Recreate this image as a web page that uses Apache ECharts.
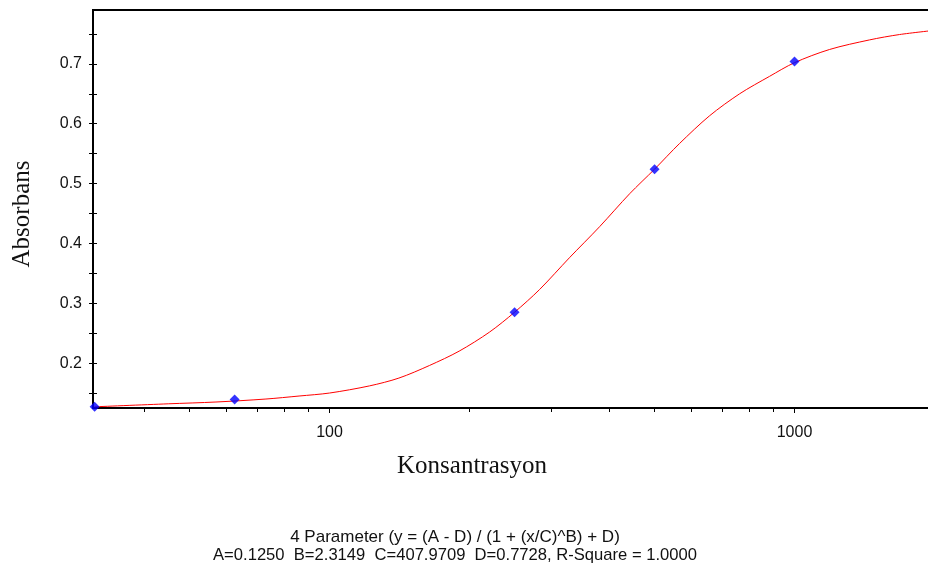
<!DOCTYPE html>
<html>
<head>
<meta charset="utf-8">
<script src="https://cdn.jsdelivr.net/npm/echarts@6/dist/echarts.min.js"></script>
<style>
  html, body { margin: 0; padding: 0; background: #fff; }
  #myChart { width: 928px; height: 579px; }
</style>
</head>
<body>
<div id="myChart"></div>
<script>
  // measured standards (blue diamonds)
  const concentrations = [31.25, 62.5, 250, 500, 1000]
  const absorbance = [0.127, 0.139, 0.285, 0.524, 0.704]

  // fitted 4PL curve
  const curveX = [31.25, 45, 57, 73, 86, 100, 122, 141, 164, 190, 221, 250, 283, 328, 381, 442, 500, 566, 656, 762, 883, 1000, 1189, 1449, 1682, 2000]
  const curveY = [0.127, 0.132, 0.135, 0.140, 0.145, 0.150, 0.162, 0.175, 0.196, 0.220, 0.252, 0.285, 0.323, 0.376, 0.428, 0.483, 0.524, 0.567, 0.613, 0.650, 0.679, 0.702, 0.724, 0.740, 0.749, 0.756]

  // axis ticks / labels
  const xLabelValues = [100, 1000]
  const xMinorTicks = [40, 50, 60, 70, 80, 90, 200, 300, 400, 500, 600, 700, 800, 900]
  const yLabelValues = [0.2, 0.3, 0.4, 0.5, 0.6, 0.7]
  const yTickValues = [0.15, 0.2, 0.25, 0.3, 0.35, 0.4, 0.45, 0.5, 0.55, 0.6, 0.65, 0.7, 0.75]

  const xMin = 31
  const xMax = 2000
  const yMin = 0.125
  const yMax = 0.79

  const sans = "'Liberation Sans', Arial, sans-serif"
  const serif = "'Liberation Serif', 'Times New Roman', serif"

  const myChart = echarts.init(document.getElementById('myChart'))

  const pointData = concentrations.map((c, i) => [c, absorbance[i]])
  const curveData = curveX.map((c, i) => [c, curveY[i]])

  myChart.setOption({
    animation: false,
    grid: {
      left: 93,
      top: 10,
      right: -6.5,
      bottom: 171,
      show: true,
      borderColor: '#000',
      borderWidth: 2,
      containLabel: false,
      outerBoundsMode: 'none'
    },
    xAxis: [
      {
        type: 'log',
        logBase: 10,
        min: xMin,
        max: xMax,
        position: 'bottom',
        axisLine: { lineStyle: { color: '#000', width: 2 } },
        axisTick: { customValues: xLabelValues, length: 5, lineStyle: { color: '#000', width: 1 } },
        axisLabel: {
          customValues: xLabelValues,
          margin: 17,
          color: '#111',
          fontFamily: sans,
          fontSize: 16,
          formatter: v => String(Math.round(v))
        },
        splitLine: { show: false },
        minorTick: { show: false }
      },
      {
        type: 'log',
        logBase: 10,
        min: xMin,
        max: xMax,
        position: 'bottom',
        axisLine: { show: false },
        axisTick: { customValues: xMinorTicks, length: 4, lineStyle: { color: '#000', width: 1 } },
        axisLabel: { show: false },
        splitLine: { show: false }
      }
    ],
    yAxis: [
      {
        type: 'value',
        min: yMin,
        max: yMax,
        position: 'left',
        axisLine: { show: true, lineStyle: { color: '#000', width: 2 } },
        axisTick: { show: true, customValues: yTickValues, length: 4, lineStyle: { color: '#000', width: 1 } },
        axisLabel: {
          customValues: yLabelValues,
          margin: 11,
          color: '#111',
          fontFamily: sans,
          fontSize: 16,
          formatter: v => v.toFixed(1)
        },
        splitLine: { show: false }
      },
      {
        type: 'value',
        min: yMin,
        max: yMax,
        position: 'left',
        axisLine: { show: false },
        axisTick: { show: true, inside: true, customValues: yTickValues, length: 4, lineStyle: { color: '#000', width: 1 } },
        axisLabel: { show: false },
        splitLine: { show: false }
      }
    ],
    graphic: [
      {
        type: 'text',
        x: 22,
        y: 214,
        rotation: Math.PI / 2,
        style: {
          text: 'Absorbans',
          fill: '#111',
          font: '25px ' + serif,
          textAlign: 'center',
          textVerticalAlign: 'middle'
        }
      },
      {
        type: 'text',
        x: 472,
        y: 466,
        style: {
          text: 'Konsantrasyon',
          fill: '#111',
          font: '25px ' + serif,
          textAlign: 'center',
          textVerticalAlign: 'middle'
        }
      },
      {
        type: 'text',
        x: 455,
        y: 537,
        style: {
          text: '4 Parameter (y = (A - D) / (1 + (x/C)^B) + D)',
          fill: '#111',
          font: '17px ' + sans,
          textAlign: 'center',
          textVerticalAlign: 'middle'
        }
      },
      {
        type: 'text',
        x: 455,
        y: 555,
        style: {
          text: 'A=0.1250  B=2.3149  C=407.9709  D=0.7728, R-Square = 1.0000',
          fill: '#111',
          font: '16.6px ' + sans,
          textAlign: 'center',
          textVerticalAlign: 'middle'
        }
      }
    ],
    series: [
      {
        name: 'fit',
        type: 'line',
        xAxisIndex: 0,
        yAxisIndex: 0,
        data: curveData,
        smooth: 0.3,
        showSymbol: false,
        lineStyle: { color: '#ff0000', width: 1 },
        z: 2
      },
      {
        name: 'standards',
        type: 'scatter',
        xAxisIndex: 0,
        yAxisIndex: 0,
        data: pointData,
        symbol: 'diamond',
        symbolSize: 10,
        itemStyle: { color: '#0000ff' },
        z: 3
      }
    ]
  })
</script>
</body>
</html>
